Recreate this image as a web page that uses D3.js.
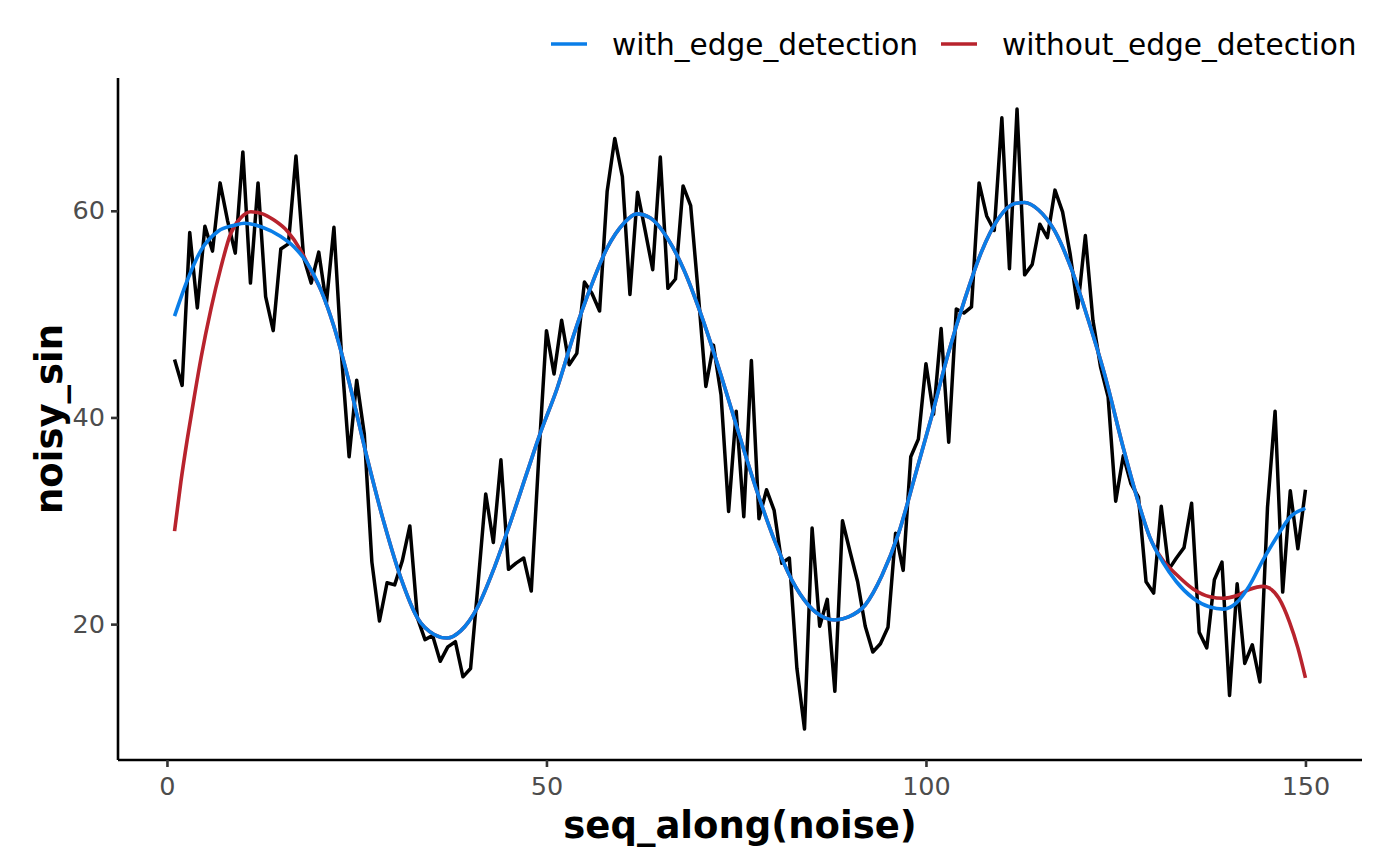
<!DOCTYPE html>
<meta charset="utf-8">

<style type="text/css">
  body {
    margin: 0;
    background: #fff;
  }
  svg text {
    font-family: "DejaVu Sans", sans-serif;
  }
  .tick-label {
    fill: #4d4d4d;
    font-size: 25.5px;
  }
  .axis-title {
    font-size: 37px;
    font-weight: bold;
    fill: #000;
  }
  .legend-text {
    font-size: 29.6px;
    fill: #000;
  }
</style>

<body>
</body>

<script src="https://d3js.org/d3.v7.min.js"></script>

<script>

// noisy_sin, one value per seq_along(noise) = 1..150
var noisySin = [
  45.6, 43.1, 57.9, 50.6, 58.5, 56.1, 62.7, 59.0, 55.9, 65.7,
  53.0, 62.7, 51.7, 48.4, 56.3, 56.8, 65.3, 55.5, 53.0, 56.0,
  51.0, 58.4, 46.0, 36.2, 43.6, 38.4, 26.0, 20.3, 24.0, 23.8,
  26.1, 29.5, 20.6, 18.5, 18.9, 16.4, 17.8, 18.3, 14.9, 15.7,
  24.0, 32.6, 27.9, 35.9, 25.3, 25.9, 26.4, 23.2, 36.3, 48.4,
  44.2, 49.4, 45.1, 46.2, 53.1, 52.0, 50.3, 61.9, 67.0, 63.3,
  51.9, 61.8, 58.1, 54.3, 65.2, 52.5, 53.4, 62.4, 60.5, 52.0,
  43.0, 47.0, 42.2, 30.9, 40.6, 30.4, 45.5, 30.2, 33.0, 31.0,
  25.9, 26.4, 15.7, 9.85, 29.3, 19.8, 22.4, 13.5, 30.0, 27.0,
  24.1, 19.8, 17.3, 18.1, 19.7, 28.8, 25.2, 36.2, 37.9, 45.2,
  40.3, 48.6, 37.6, 50.5, 50.1, 50.7, 62.7, 59.5, 58.1, 69.0,
  54.4, 69.85, 53.8, 54.8, 58.7, 57.4, 62.0, 59.9, 55.8, 50.6,
  57.6, 49.4, 44.9, 42.0, 31.9, 36.3, 33.6, 32.3, 24.1, 23.0,
  31.4, 25.3, 26.4, 27.4, 31.7, 19.2, 17.7, 24.3, 26.0, 13.1,
  23.9, 16.2, 18.0, 14.4, 31.3, 40.6, 23.1, 32.9, 27.3, 33.0
];

var edgeX = [1, 2.7, 4.5, 6.7, 8.9, 10.2, 12.4, 15, 16.75, 18.5,
  20.3, 22, 23.8, 26.4, 28.6, 30.8, 33, 35.2, 36.9, 38.7,
  40.9, 43.1, 45.3, 47.5, 49.2, 51.4, 53.6, 55.8, 58, 60.2,
  61.9, 63.7, 65.9, 68.1, 70.3, 72.5, 74.7, 77.9, 80.1, 82.3,
  84.5, 86.7, 88, 89.8, 92, 94.2, 96.4, 98.55, 100.75, 102.9,
  105.1, 107.3, 109.5, 111.7, 113, 114.8, 117, 119.2, 121.4, 123.6,
  126, 127.7, 129.5, 131.2, 133, 135.2, 137.4, 139.2, 140.9, 142.6,
  144.4, 146.2, 147.9, 150];
var edgeY = [49.8, 53.3, 56.2, 58.0, 58.6, 58.8, 58.45, 57.5, 56.5, 54.9,
  52.3, 48.8, 44.0, 36.0, 29.8, 24.5, 20.6, 19.0, 18.65, 19.35,
  21.6, 25.4, 29.95, 34.8, 38.5, 42.8, 48.0, 52.55, 56.4, 58.8,
  59.7, 59.3, 57.4, 54.3, 50.1, 45.25, 40.0, 32.5, 28.0, 24.3,
  21.85, 20.6, 20.4, 20.7, 21.85, 24.7, 28.8, 34.3, 40.1, 46.1,
  51.4, 56.0, 59.2, 60.7, 60.8, 60.1, 58.0, 54.3, 49.4, 44.0,
  37.05, 32.5, 28.4, 26.0, 24.1, 22.5, 21.65, 21.45, 22.05, 23.7,
  26.2, 28.4, 30.3, 31.2];

// fit without edge detection only differs at the two ends
var noEdgeLeftX = [1, 1.84, 2.7, 3.6, 4.5, 5.8, 7.1, 8.4, 9.7, 11.05, 12.4, 14.1, 15.9, 17.6, 18.9];
var noEdgeLeftY = [29.0, 33.8, 38.0, 42.0, 45.8, 50.5, 54.5, 57.8, 59.3, 59.9, 59.75, 59.1, 58.0, 56.2, 54.3];
var noEdgeRightX = [131.2, 133, 135.2, 137.4, 139.2, 140.9, 142.6, 144.4, 145.2, 146.5, 147.9, 149, 150];
var noEdgeRightY = [26.2, 24.8, 23.4, 22.65, 22.5, 22.75, 23.35, 23.65, 23.5, 22.5, 20.2, 17.7, 14.8];

var seriesNames = ["with_edge_detection", "without_edge_detection"];
var seriesColors = ["#0a7ee8", "#b8232d"];

var xTicks = [0, 50, 100, 150];
var yTicks = [20, 40, 60];

var W = 1400, H = 866;
var margin = {top: 78, right: 38, bottom: 106, left: 118};
var w = W - margin.left - margin.right,
    h = H - margin.top - margin.bottom;

var svg = d3.select("body").append("svg")
    .attr("width", W)
    .attr("height", H);

var chart = svg.append("g")
    .attr("transform", "translate(" + margin.left + "," + margin.top + ")");

var raw = noisySin.map(function(v, i) { return {x: i + 1, y: v}; });

var edgeFit = edgeX.map(function(x, i) { return {x: x, y: edgeY[i]}; });

// middle part of the no-edge fit is the same curve as the edge fit
var mid = edgeFit.filter(function(d) { return d.x > 19 && d.x < 131; });
var noEdgeFit = noEdgeLeftX.map(function(x, i) { return {x: x, y: noEdgeLeftY[i]}; })
    .concat(mid)
    .concat(noEdgeRightX.map(function(x, i) { return {x: x, y: noEdgeRightY[i]}; }));

// ggplot style 5% padding on both axes
var xExt = d3.extent(raw, function(d) { return d.x; });
var yExt = d3.extent(raw, function(d) { return d.y; });
var xPad = (xExt[1] - xExt[0]) * 0.05,
    yPad = (yExt[1] - yExt[0]) * 0.05;

var xscale = d3.scaleLinear()
    .domain([xExt[0] - xPad, xExt[1] + xPad])
    .range([0, w]);

var yscale = d3.scaleLinear()
    .domain([yExt[0] - yPad, yExt[1] + yPad])
    .range([h, 0]);

var xaxis = d3.axisBottom(xscale).tickValues(xTicks).tickSize(7).tickPadding(6);
var yaxis = d3.axisLeft(yscale).tickValues(yTicks).tickSize(7).tickPadding(6);

var gx = chart.append("g")
    .attr("transform", "translate(0," + h + ")")
    .call(xaxis);

var gy = chart.append("g")
    .call(yaxis);

[gx, gy].forEach(function(g) {
  g.select(".domain").attr("stroke", "#000").attr("stroke-width", 2.6);
  g.selectAll(".tick line").attr("stroke", "#333").attr("stroke-width", 2.6);
  g.selectAll(".tick text").attr("class", "tick-label").attr("font-size", null).attr("font-family", null);
});
gx.selectAll(".tick text").attr("dy", "0.85em");
// domain path draws little outer ticks, strip them
gx.select(".domain").attr("d", "M0,0H" + w);
gy.select(".domain").attr("d", "M0,0V" + h);

var line = d3.line()
    .x(function(d) { return xscale(d.x); })
    .y(function(d) { return yscale(d.y); });

var smooth = d3.line()
    .curve(d3.curveMonotoneX)
    .x(function(d) { return xscale(d.x); })
    .y(function(d) { return yscale(d.y); });

chart.append("path")
    .datum(raw)
    .attr("fill", "none")
    .attr("stroke", "#000")
    .attr("stroke-width", 3.5)
    .attr("stroke-linejoin", "round")
    .attr("d", line);

// red first so the blue sits on top where they overlap
chart.append("path")
    .datum(noEdgeFit)
    .attr("fill", "none")
    .attr("stroke", seriesColors[1])
    .attr("stroke-width", 3.6)
    .attr("d", smooth);

chart.append("path")
    .datum(edgeFit)
    .attr("fill", "none")
    .attr("stroke", seriesColors[0])
    .attr("stroke-width", 3.6)
    .attr("d", smooth);

// axis titles
svg.append("text")
    .attr("class", "axis-title")
    .attr("x", margin.left + w / 2)
    .attr("y", 838)
    .attr("text-anchor", "middle")
    .text("seq_along(noise)");

svg.append("text")
    .attr("class", "axis-title")
    .attr("transform", "translate(62," + (margin.top + h / 2) + ") rotate(-90)")
    .attr("text-anchor", "middle")
    .text("noisy_sin");

// legend on top, right aligned
var legendX = [551, 941];
var legend = svg.selectAll("g.legend-item")
    .data(seriesNames)
    .enter()
    .append("g")
    .attr("class", "legend-item")
    .attr("transform", function(d, i) { return "translate(" + legendX[i] + ",44)"; });

legend.append("line")
    .attr("x1", 0)
    .attr("x2", 36)
    .attr("stroke", function(d, i) { return seriesColors[i]; })
    .attr("stroke-width", 3.6);

legend.append("text")
    .attr("class", "legend-text")
    .attr("x", 61)
    .attr("y", 11)
    .text(function(d) { return d; });

</script>
